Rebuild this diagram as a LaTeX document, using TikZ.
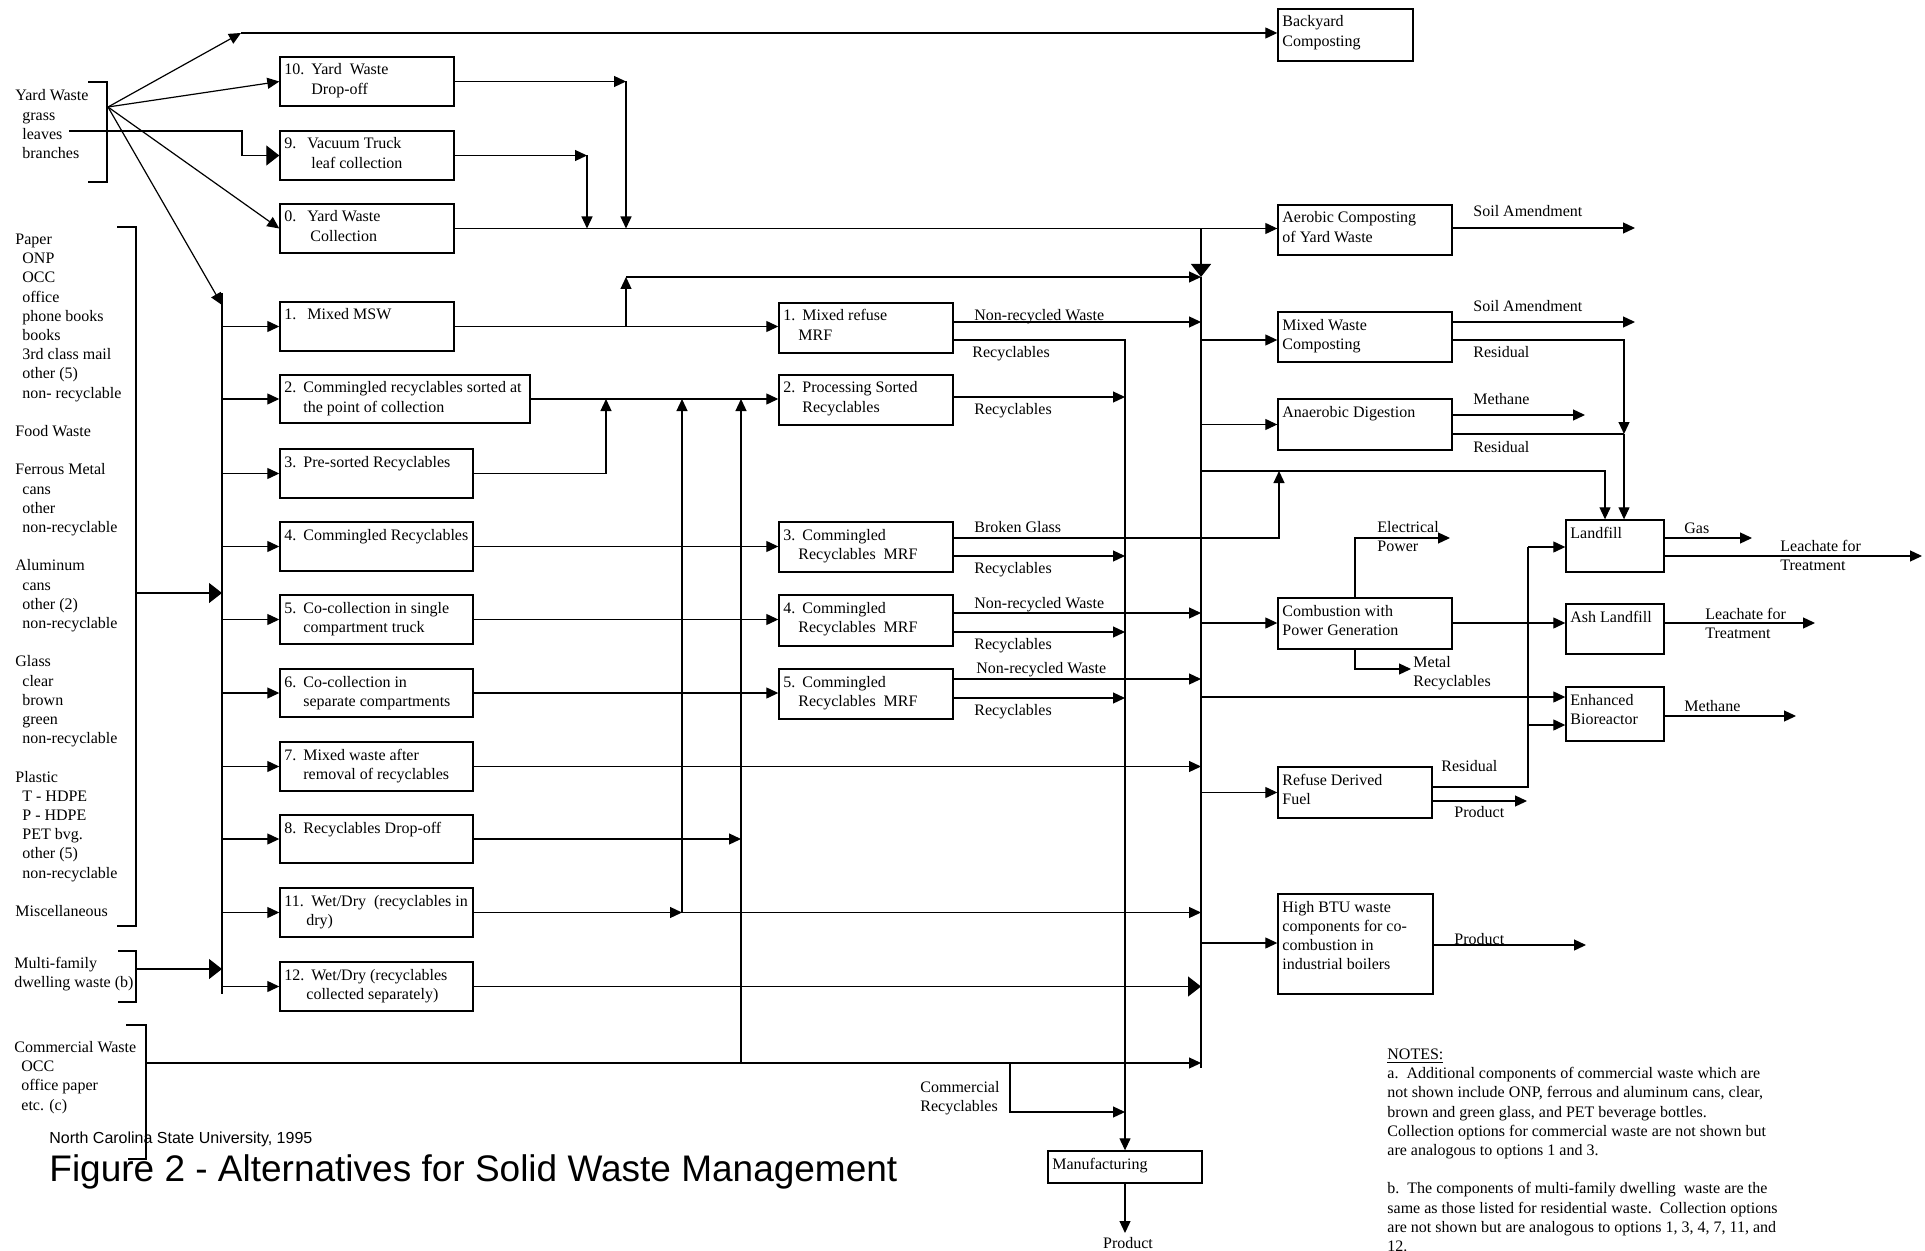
\documentclass[tikz,border=0pt]{standalone}
\usepackage{fontspec}
\setmainfont{Liberation Serif}
\newfontfamily\arialf{Liberation Sans}
\usetikzlibrary{arrows.meta,fit}
\newlength\pxu \setlength\pxu{0.5pt}
\newcommand\tl[1]{\begin{tabular}[t]{@{}l@{}}#1\end{tabular}}
\newcommand\nb[2]{\makebox[#1\pxu][l]{#2}}
\newcommand\ii{\hspace*{3.5pt}}
\newcommand\hs[1]{\hspace*{#1\pxu}}
\begin{document}
\begin{tikzpicture}[x=0.5pt,y=-0.5pt,
  box/.style={draw, line width=0.7pt, inner sep=0pt},
  tx/.style={anchor=base west, inner sep=0pt, font=\fontsize{8}{9.6}\selectfont},
  ln/.style={line width=0.6pt},
  arr/.style={ln, -{Triangle[length=6pt,width=5.5pt]}},
  barr/.style={ln, -{Triangle[length=6.5pt,width=10pt]}}]
\useasboundingbox (0,0) rectangle (1925,1251);

% ---------- boxes ----------
\node[box, fit={(280,57)(454,106)}] (b10) {};
\node[box, fit={(280,131)(454,180)}] (b9) {};
\node[box, fit={(280,204)(454,253)}] (b0) {};
\node[box, fit={(280,302)(454,351)}] (b1) {};
\node[box, fit={(280,375)(530,423)}] (b2) {};
\node[box, fit={(280,449)(473,498)}] (b3) {};
\node[box, fit={(280,522)(473,571)}] (b4) {};
\node[box, fit={(280,595)(473,644)}] (b5) {};
\node[box, fit={(280,669)(473,717)}] (b6) {};
\node[box, fit={(280,742)(473,791)}] (b7) {};
\node[box, fit={(280,815)(473,863)}] (b8) {};
\node[box, fit={(280,888)(473,937)}] (b11) {};
\node[box, fit={(280,962)(473,1011)}] (b12) {};

\node[box, fit={(779,303)(953,353)}] (m1) {};
\node[box, fit={(779,375)(953,425)}] (m2) {};
\node[box, fit={(779,522)(953,572)}] (m3) {};
\node[box, fit={(779,595)(953,646)}] (m4) {};
\node[box, fit={(779,669)(953,719)}] (m5) {};

\node[box, fit={(1278,9)(1413,61)}] (backyard) {};
\node[box, fit={(1278,205)(1452,255)}] (aerobic) {};
\node[box, fit={(1278,312)(1452,362)}] (mixcomp) {};
\node[box, fit={(1278,399)(1452,450)}] (anaer) {};
\node[box, fit={(1278,598)(1452,649)}] (comb) {};
\node[box, fit={(1278,767)(1432,818)}] (rdf) {};
\node[box, fit={(1278,894)(1433,994)}] (hbtu) {};
\node[box, fit={(1566,520)(1664,572)}] (landfill) {};
\node[box, fit={(1566,604)(1664,654)}] (ash) {};
\node[box, fit={(1566,687)(1664,741)}] (bio) {};
\node[box, fit={(1048,1151)(1202,1183)}] (manuf) {};

% ---------- box texts ----------
\node[tx] (t10) at (284,75) {\tl{\nb{27}{10.}Yard\ \ Waste\\\hs{27}Drop-off}};
\node[tx] (t9) at (284,149) {\tl{\nb{23}{9.}Vacuum Truck\\\hs{27}leaf collection}};
\node[tx] (t0) at (284,222) {\tl{\nb{23}{0.}Yard Waste\\\hs{26}Collection}};
\node[tx] (t1) at (284,320) {\tl{\nb{23}{1.}Mixed MSW}};
\node[tx] (t2) at (284,393) {\tl{\nb{19}{2.}Commingled recyclables sorted at\\\hs{19}the point of collection}};
\node[tx] (t3) at (284,467) {\tl{\nb{19}{3.}Pre-sorted Recyclables}};
\node[tx] (t4) at (284,540) {\tl{\nb{19}{4.}Commingled Recyclables}};
\node[tx] (t5) at (284,613) {\tl{\nb{19}{5.}Co-collection in single\\\hs{19}compartment truck}};
\node[tx] (t6) at (284,687) {\tl{\nb{19}{6.}Co-collection in\\\hs{19}separate compartments}};
\node[tx] (t7) at (284,760) {\tl{\nb{19}{7.}Mixed waste after\\\hs{19}removal of recyclables}};
\node[tx] (t8) at (284,833) {\tl{\nb{19}{8.}Recyclables Drop-off}};
\node[tx] (t11) at (284,906) {\tl{\nb{27}{11.}Wet/Dry\ \ (recyclables in\\\hs{22}dry)}};
\node[tx] (t12) at (284,980) {\tl{\nb{27}{12.}Wet/Dry (recyclables\\\hs{22}collected separately)}};

\node[tx] (tm1) at (783,321) {\tl{\nb{19}{1.}Mixed refuse\\\hs{15}MRF}};
\node[tx] (tm2) at (783,393) {\tl{\nb{19}{2.}Processing Sorted\\\hs{19}Recyclables}};
\node[tx] (tm3) at (783,540) {\tl{\nb{19}{3.}Commingled\\\hs{15}Recyclables\ \ MRF}};
\node[tx] (tm4) at (783,613) {\tl{\nb{19}{4.}Commingled\\\hs{15}Recyclables\ \ MRF}};
\node[tx] (tm5) at (783,687) {\tl{\nb{19}{5.}Commingled\\\hs{15}Recyclables\ \ MRF}};

\node[tx] (tby) at (1282,27) {\tl{Backyard\\Composting}};
\node[tx] (tae) at (1282,223) {\tl{Aerobic Composting\\of Yard Waste}};
\node[tx] (tmc) at (1282,330) {\tl{Mixed Waste\\Composting}};
\node[tx] (tan) at (1282,417) {\tl{Anaerobic Digestion}};
\node[tx] (tco) at (1282,616) {\tl{Combustion with\\Power Generation}};
\node[tx] (trd) at (1282,785) {\tl{Refuse Derived\\Fuel}};
\node[tx] (thb) at (1282,912) {\tl{High BTU waste\\components for co-\\combustion in\\industrial boilers}};
\node[tx] (tlf) at (1570,538) {\tl{Landfill}};
\node[tx] (tas) at (1570,622) {\tl{Ash Landfill}};
\node[tx] (tbi) at (1570,705) {\tl{Enhanced\\Bioreactor}};
\node[tx] (tmf) at (1052,1169) {\tl{Manufacturing}};

% ---------- left texts ----------
\draw[ln] (88,82) -- (107,82) -- (107,182) -- (88,182);
\node[tx] (yard) at (15,101) {\tl{Yard Waste\\\ii grass\\\ii leaves\\\ii branches}};
\draw[ln] (117,227) -- (136,227) -- (136,926) -- (117,926);
\node[tx] (res) at (15,244.5) {\tl{Paper\\\ii ONP\\\ii OCC\\\ii office\\\ii phone books\\\ii books\\\ii 3rd class mail\\\ii other (5)\\\ii non- recyclable\\ \\Food Waste\\ \\Ferrous Metal\\\ii cans\\\ii other\\\ii non-recyclable\\ \\Aluminum\\\ii cans\\\ii other (2)\\\ii non-recyclable\\ \\Glass\\\ii clear\\\ii brown\\\ii green\\\ii non-recyclable\\ \\Plastic\\\ii T - HDPE\\\ii P - HDPE\\\ii PET bvg.\\\ii other (5)\\\ii non-recyclable\\ \\Miscellaneous}};
\draw[ln] (118,951) -- (136,951) -- (136,1002) -- (118,1002);
\node[tx] (multi) at (14,968.5) {\tl{Multi-family\\dwelling waste (b)}};
\draw[ln] (126,1025) -- (146,1025) -- (146,1159) -- (128,1159);
\node[tx] (comm) at (14,1052.5) {\tl{Commercial Waste\\\ii OCC\\\ii office paper\\\ii etc. (c)}};

\node[tx, font=\arialf\fontsize{8}{9.6}\selectfont] (ncsu) at (49,1143.5) {North Carolina State University, 1995};
\node[tx, font=\arialf\fontsize{18.5}{22}\selectfont] (title) at (49,1181) {Figure 2 - Alternatives for Solid Waste Management};

\node[tx] (notes) at (1387,1059.5) {\tl{\underline{NOTES:}\\a.\ \ Additional components of commercial waste which are\\not shown include ONP, ferrous and aluminum cans, clear,\\brown and green glass, and PET beverage bottles.\\Collection options for commercial waste are not shown but\\are analogous to options 1 and 3.\\ \\b.\ \ The components of multi-family dwelling\ \ waste are the\\same as those listed for residential waste.\ \ Collection options\\are not shown but are analogous to options 1, 3, 4, 7, 11, and\\12.}};

% ---------- coordinates ----------
\coordinate (yw) at (108,107);
\coordinate (yt) at (241,33);
\coordinate (lbT) at (222,293);
\coordinate (lbB) at (222,994);
\coordinate (rbT) at (1201,229);
\coordinate (rbB) at (1201,1068);

% ---------- yard waste ----------
\draw[arr] (yw) -- (yt);
\draw[arr] (yt) -- (backyard.west |- yt);
\draw[arr] (yw) -- (b10.west);
\draw[arr] (yw) -- (b0.west);
\draw[arr] (yw) -- (222,305);
\draw[barr] (69,131) -- (242,131) |- (b9.west);
\draw[arr] (b10.east) -- (626,81.5);
\draw[arr] (626,81.5) -- (626,228.5);
\draw[arr] (b9.east) -- (587,155.5);
\draw[arr] (587,155.5) -- (587,228.5);
\draw[arr] (b0.east) -- (aerobic.west |- b0.east);

% ---------- left bus ----------
\draw[ln] (lbT) -- (lbB);
\foreach \b in {b1,b2,b3,b4,b5,b6,b7,b8,b11,b12}
  \draw[arr] (lbT |- \b.west) -- (\b.west);
\draw[barr] (136,593) -- (lbT |- 0,593);
\draw[barr] (136,969) -- (lbT |- 0,969);

% ---------- middle ----------
\draw[arr] (b1.east) -- (b1.east -| m1.west);
\draw[arr] (626,326.5) -- (626,277);
\draw[arr] (626,277) -- (rbT |- 0,277);
\draw[arr] (b2.east) -- (b2.east -| m2.west);
\draw[ln] (b3.east) -- (606,473.5);
\draw[arr] (606,473.5) -- (606,399);
\draw[arr] (b4.east) -- (b4.east -| m3.west);
\draw[arr] (b5.east) -- (b5.east -| m4.west);
\draw[arr] (b6.east) -- (b6.east -| m5.west);
\draw[arr] (b7.east) -- (rbT |- b7.east);
\draw[arr] (b8.east) -- (741,839);
\draw[arr] (b11.east) -- (682,912.5);
\draw[arr] (682,912.5) -- (rbT |- b11.east);
\draw[arr] (682,912.5) -- (682,399);
\draw[barr] (b12.east) -- (rbT |- b12.east);
\draw[arr] (146,1063) -- (rbT |- 0,1063);
\draw[arr] (741,1063) -- (741,399);

% ---------- MRF outputs ----------
\draw[arr] (m1.east |- 0,322) -- (rbT |- 0,322);
\node[tx] (l1a) at (974,321) {Non-recycled Waste};
\draw[arr] (m1.east |- 0,340) -| (manuf.north);
\node[tx] (l1b) at (972,357.5) {Recyclables};
\draw[arr] (m2.east |- 0,397) -- (manuf.north |- 0,397);
\node[tx] (l2b) at (974,414.5) {Recyclables};
\draw[arr] (m3.east |- 0,538) -| (1279,471);
\node[tx] (l3a) at (974,532.5) {Broken Glass};
\draw[arr] (m3.east |- 0,556) -- (manuf.north |- 0,556);
\node[tx] (l3b) at (974,573.5) {Recyclables};
\draw[arr] (m4.east |- 0,613) -- (rbT |- 0,613);
\node[tx] (l4a) at (974,608.5) {Non-recycled Waste};
\draw[arr] (m4.east |- 0,632) -- (manuf.north |- 0,632);
\node[tx] (l4b) at (974,649.5) {Recyclables};
\draw[arr] (m5.east |- 0,679) -- (rbT |- 0,679);
\node[tx] (l5a) at (976,673.5) {Non-recycled Waste};
\draw[arr] (m5.east |- 0,698) -- (manuf.north |- 0,698);
\node[tx] (l5b) at (974,715.5) {Recyclables};

% ---------- right bus ----------
\draw[barr] (rbT) -- (rbT |- 0,277);
\draw[ln] (rbT |- 0,277) -- (rbB);
\draw[arr] (rbT |- 0,340) -- (mixcomp.west |- 0,340);
\draw[arr] (rbT |- anaer.west) -- (anaer.west);
\draw[arr] (rbT |- 0,471) -| (landfill.north -| 1605,0);
\draw[arr] (rbT |- 0,623) -- (comb.west |- 0,623);
\draw[arr] (rbT |- 0,697) -- (bio.west |- 0,697);
\draw[arr] (rbT |- rdf.west) -- (rdf.west);
\draw[arr] (rbT |- 0,943) -- (hbtu.west |- 0,943);

% ---------- right outputs ----------
\draw[arr] (aerobic.east |- 0,228) -- (1635,228);
\node[tx] (sa1) at (1473,216.5) {Soil Amendment};
\draw[arr] (mixcomp.east |- 0,322) -- (1635,322);
\node[tx] (sa2) at (1473,311.5) {Soil Amendment};
\draw[arr] (mixcomp.east |- 0,340) -| (1624,434);
\node[tx] (rs1) at (1473,357.5) {Residual};
\draw[arr] (1624,434) -- (landfill.north -| 1624,0);
\draw[arr] (anaer.east |- 0,415) -- (1585,415);
\node[tx] (me1) at (1473,404.5) {Methane};
\draw[ln] (anaer.east |- 0,434) -- (1624,434);
\node[tx] (rs2) at (1473,452.5) {Residual};

\draw[arr] (comb.north -| 1355,0) |- (1450,538);
\node[tx] (ep) at (1377,532.5) {\tl{Electrical\\Power}};
\draw[arr] (comb.south -| 1355,0) |- (1411,669);
\node[tx] (mr) at (1413,667.5) {\tl{Metal\\Recyclables}};
\draw[arr] (comb.east |- 0,623) -- (ash.west |- 0,623);

\draw[arr] (landfill.east |- 0,538) -- (1752,538);
\node[tx] (gas) at (1684,533.5) {Gas};
\draw[arr] (landfill.east |- 0,556) -- (1922,556);
\node[tx] (lt1) at (1780,551.5) {\tl{Leachate for\\Treatment}};
\draw[arr] (ash.east |- 0,623) -- (1815,623);
\node[tx] (lt2) at (1705,619.5) {\tl{Leachate for\\Treatment}};
\draw[arr] (bio.east |- 0,716) -- (1796,716);
\node[tx] (me2) at (1684,711.5) {Methane};

\draw[ln] (rdf.east |- 0,787) -| (1528,547);
\node[tx] (rs3) at (1441,771.5) {Residual};
\draw[arr] (1528,547) -- (landfill.west |- 0,547);
\draw[arr] (1528,725) -- (bio.west |- 0,725);
\draw[arr] (rdf.east |- 0,801) -- (1527,801);
\node[tx] (pr1) at (1454,817.5) {Product};
\draw[arr] (hbtu.east |- 0,945) -- (1586,945);
\node[tx] (pr2) at (1454,944.5) {Product};

% ---------- manufacturing ----------
\draw[arr] (manuf.south) -- (1125,1233);
\node[tx, anchor=base] (pr3) at (1128,1248) {Product};
\draw[arr] (1010,1063) |- (manuf.north |- 0,1112);
\node[tx] (cr) at (920,1092.5) {\tl{Commercial\\Recyclables}};
\end{tikzpicture}
\end{document}
